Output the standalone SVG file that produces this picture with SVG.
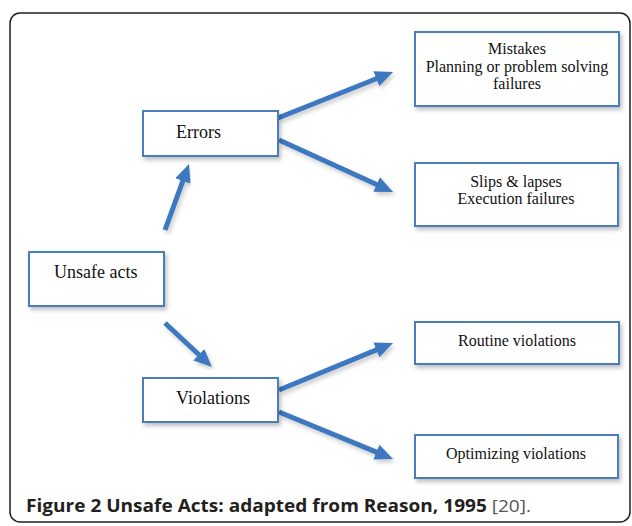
<svg xmlns="http://www.w3.org/2000/svg" width="632" height="526" viewBox="0 0 632 526">
  <defs>
    <style>
      .box { fill: #ffffff; stroke: #4a7ebb; stroke-width: 2; filter: url(#shadow); }
      .big { font-family: "Liberation Serif", "Times New Roman", serif; font-size: 18px; fill: #111; }
      .small { font-family: "Liberation Serif", "Times New Roman", serif; font-size: 16px; fill: #111; text-anchor: middle; }
      .conn { stroke: #3c78c0; stroke-width: 5; fill: none; marker-end: url(#head); filter: url(#ashadow); }
      .cap { font-family: "Open Sans", "Liberation Sans", sans-serif; font-size: 17px; fill: #231f20; }
    </style>
    <filter id="shadow" x="-10%" y="-10%" width="125%" height="140%">
      <feDropShadow dx="2" dy="3" stdDeviation="2" flood-color="#000" flood-opacity="0.25"/>
    </filter>
    <filter id="ashadow" x="-20%" y="-20%" width="150%" height="150%">
      <feDropShadow dx="2" dy="3" stdDeviation="2" flood-color="#000" flood-opacity="0.2"/>
    </filter>
    <marker id="head" markerUnits="userSpaceOnUse" viewBox="0 0 18 16" markerWidth="18" markerHeight="16" refX="6" refY="8" orient="auto">
      <path d="M0,0 L18,8 L0,16 z" fill="#3c78c0"/>
    </marker>
  </defs>

  <rect x="10" y="13" width="620" height="509" rx="10" ry="10" fill="none" stroke="#231f20" stroke-width="1.5"/>

  <g id="connectors">
    <line class="conn" x1="278" y1="118" x2="381.9" y2="76.5"/>
    <line class="conn" x1="279" y1="140" x2="382.1" y2="187"/>
    <line class="conn" x1="165" y1="230" x2="184.9" y2="175.3"/>
    <line class="conn" x1="165" y1="323" x2="203.2" y2="358.8"/>
    <line class="conn" x1="279" y1="390" x2="381.9" y2="347.6"/>
    <line class="conn" x1="279" y1="412" x2="381.9" y2="454.4"/>
  </g>

  <g id="unsafe-acts">
    <rect class="box" x="29" y="252" width="135" height="54"/>
    <text class="big" x="54" y="278">Unsafe acts</text>
  </g>
  <g id="errors">
    <rect class="box" x="143" y="111" width="135" height="45"/>
    <text class="big" x="176" y="138">Errors</text>
  </g>
  <g id="violations">
    <rect class="box" x="143" y="378" width="135" height="44"/>
    <text class="big" x="176" y="404">Violations</text>
  </g>
  <g id="mistakes">
    <rect class="box" x="415" y="32" width="204" height="74"/>
    <text class="small" x="517" y="54">Mistakes</text>
    <text class="small" x="517" y="72">Planning or problem solving</text>
    <text class="small" x="517" y="89">failures</text>
  </g>
  <g id="slips">
    <rect class="box" x="415" y="163" width="203" height="63"/>
    <text class="small" x="516" y="187">Slips &amp; lapses</text>
    <text class="small" x="516" y="204">Execution failures</text>
  </g>
  <g id="routine">
    <rect class="box" x="415" y="322" width="204" height="42"/>
    <text class="small" x="517" y="346">Routine violations</text>
  </g>
  <g id="optimizing">
    <rect class="box" x="415" y="435" width="203" height="43"/>
    <text class="small" x="516" y="459">Optimizing violations</text>
  </g>

  <text class="cap" x="26" y="512" textLength="505" lengthAdjust="spacingAndGlyphs"><tspan font-weight="bold">Figure 2 Unsafe Acts: adapted from Reason, 1995</tspan> <tspan fill="#555">[20].</tspan></text>
</svg>
